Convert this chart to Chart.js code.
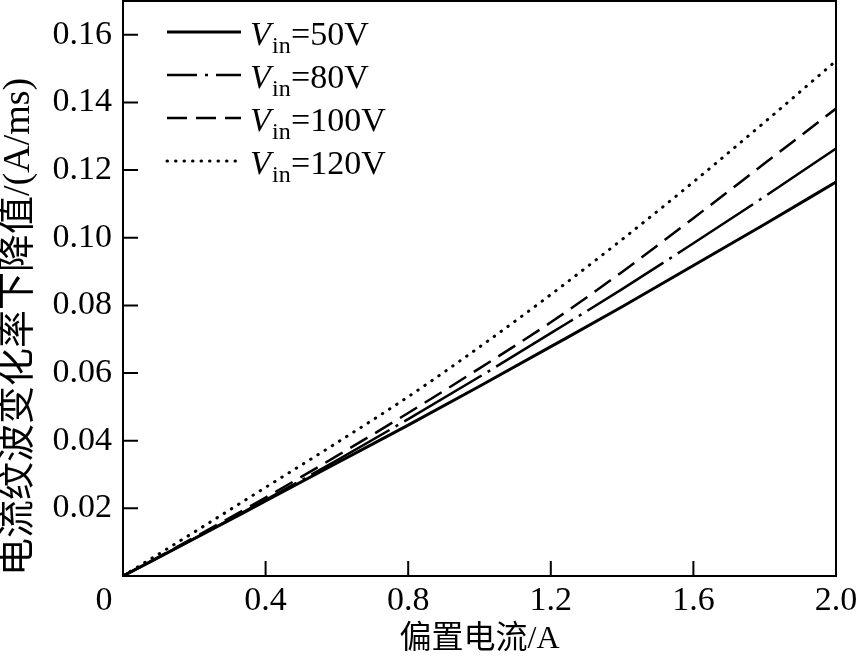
<!DOCTYPE html>
<html>
<head>
<meta charset="utf-8">
<script src="https://cdn.jsdelivr.net/npm/chart.js@4/dist/chart.umd.min.js"></script>
<style>
  html, body { margin: 0; padding: 0; background: #fff; }
  #wrap { width: 858px; height: 670px; }
</style>
</head>
<body>
<div id="wrap"><canvas id="rippleChart"></canvas></div>
<script>
// bias current (A)
const current = [0, 0.2, 0.4, 0.6, 0.8, 1.0, 1.2, 1.4, 1.6, 1.8, 2.0];
// input voltages (V)
const voltages = [50, 80, 100, 120];
// ripple slope drop (A/ms)
const v50  = [0, 0.0110, 0.0222, 0.0334, 0.0446, 0.0561, 0.0678, 0.0796, 0.0918, 0.1040, 0.1165];
const v80  = [0, 0.0111, 0.0225, 0.0342, 0.0464, 0.0589, 0.0718, 0.0848, 0.0984, 0.1122, 0.1264];
const v100 = [0, 0.0114, 0.0232, 0.0355, 0.0482, 0.0614, 0.0750, 0.0899, 0.1058, 0.1220, 0.1382];
const v120 = [0, 0.0130, 0.0262, 0.0394, 0.0530, 0.0677, 0.0832, 0.0995, 0.1165, 0.1342, 0.1523];
const xTicks = [0, 0.4, 0.8, 1.2, 1.6, 2.0];
const yTicks = [0, 0.02, 0.04, 0.06, 0.08, 0.10, 0.12, 0.14, 0.16];

const serif = "'Liberation Serif', 'Times New Roman', 'Noto Sans CJK SC', serif";

const series = [v50, v80, v100, v120];
const styles = [
  { width: 3,   dash: [],            legendDash: [],            cap: "butt" },
  { width: 2.5, dash: [90, 7, 3, 7], legendDash: [30, 8, 3, 8], cap: "butt" },
  { width: 2.5, dash: [20, 9],       legendDash: [20, 9],       cap: "butt" },
  { width: 3,   dash: [0.5, 8],      legendDash: [0.5, 8],      cap: "round" }
];

const datasets = series.map((vals, i) => ({
  label: "Vin=" + voltages[i] + "V",
  data: current.map((x, k) => ({ x: x, y: vals[k] })),
  borderColor: "#000",
  borderWidth: styles[i].width,
  borderDash: styles[i].dash,
  borderCapStyle: styles[i].cap,
  pointRadius: 0,
  cubicInterpolationMode: "monotone",
  fill: false
}));

// ===== frame, inward ticks, origin label and legend =====
const framePlugin = {
  id: "frame",
  afterDatasetsDraw(chart) {
    const { ctx, chartArea: a, scales } = chart;
    ctx.save();
    ctx.strokeStyle = "#000";
    ctx.lineWidth = 2;
    ctx.setLineDash([]);
    ctx.strokeRect(a.left, a.top, a.right - a.left, a.bottom - a.top);

    // inward tick marks
    ctx.beginPath();
    scales.x.ticks.forEach(t => {
      if (t.value <= 0 || t.value >= 2) return;
      const px = scales.x.getPixelForValue(t.value);
      ctx.moveTo(px, a.bottom);
      ctx.lineTo(px, a.bottom - 15);
    });
    scales.y.ticks.forEach(t => {
      if (t.value <= 0) return;
      const py = scales.y.getPixelForValue(t.value);
      ctx.moveTo(a.left, py);
      ctx.lineTo(a.left + 15, py);
    });
    ctx.stroke();

    // shared origin label
    ctx.fillStyle = "#000";
    ctx.font = "34px " + serif;
    ctx.textAlign = "center";
    ctx.textBaseline = "top";
    ctx.fillText("0", a.left - 19, a.bottom + 8);

    // legend
    ctx.textAlign = "left";
    ctx.textBaseline = "alphabetic";
    voltages.forEach((v, i) => {
      const y = 32 + i * 43;
      ctx.beginPath();
      ctx.lineWidth = styles[i].width;
      ctx.lineCap = styles[i].cap;
      ctx.setLineDash(styles[i].legendDash);
      ctx.moveTo(167, y);
      ctx.lineTo(241, y);
      ctx.stroke();
      ctx.setLineDash([]);
      ctx.font = "italic 34px " + serif;
      ctx.fillText("V", 250, y + 13);
      ctx.font = "24px " + serif;
      ctx.fillText("in", 272, y + 21);
      ctx.font = "34px " + serif;
      ctx.fillText("=" + v + "V", 291, y + 13);
    });
    ctx.restore();
  }
};

new Chart(document.getElementById("rippleChart"), {
  type: "line",
  data: { datasets: datasets },
  options: {
    responsive: true,
    maintainAspectRatio: false,
    animation: false,
    layout: { padding: { left: 0, right: 22, top: 1, bottom: 0 } },
    plugins: {
      legend: { display: false },
      tooltip: { enabled: false }
    },
    scales: {
      x: {
        type: "linear",
        min: 0,
        max: 2,
        afterBuildTicks: scale => { scale.ticks = xTicks.map(v => ({ value: v })); },
        afterFit: scale => {
          scale.height = 94;
          scale.paddingLeft = 0;
          scale.paddingRight = 0;
        },
        grid: { display: false, drawTicks: false },
        border: { display: false },
        ticks: {
          color: "#000",
          padding: 5,
          maxRotation: 0,
          font: { family: serif, size: 34 },
          callback: v => (v === 0 ? "" : v.toFixed(1))
        },
        title: {
          display: true,
          text: "偏置电流/A",
          color: "#000",
          font: { family: serif, size: 32, lineHeight: 1 },
          padding: { top: 0, bottom: 14 }
        }
      },
      y: {
        min: 0,
        max: 0.17,
        afterBuildTicks: scale => { scale.ticks = yTicks.map(v => ({ value: v })); },
        afterFit: scale => {
          scale.width = 123;
          scale.paddingTop = 0;
          scale.paddingBottom = 0;
        },
        grid: { display: false, drawTicks: false },
        border: { display: false },
        ticks: {
          color: "#000",
          padding: 11,
          font: { family: serif, size: 34 },
          callback: v => (v === 0 ? "" : v.toFixed(2))
        },
        title: {
          display: true,
          text: "电流纹波变化率下降值/(A/ms)",
          color: "#000",
          align: "start",
          font: { family: serif, size: 38, lineHeight: 1 },
          padding: { top: 0, bottom: 0 }
        }
      }
    }
  },
  plugins: [framePlugin]
});
</script>
</body>
</html>
